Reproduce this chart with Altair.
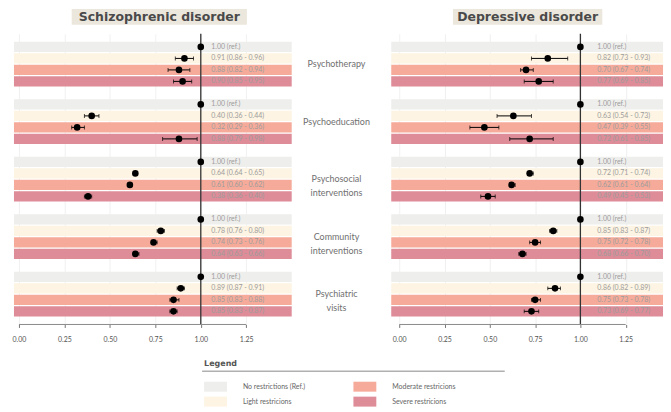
import altair as alt
import pandas as pd

# ---------------- data ----------------
levels = ["No restrictions (Ref.)", "Light restricions", "Moderate restricions", "Severe restricions"]
level_colors = ["#eeeeec", "#fdf4e3", "#f6ab9a", "#dd8c98"]
groups = [["Psychotherapy"], ["Psychoeducation"], ["Psychosocial", "interventions"],
          ["Community", "interventions"], ["Psychiatric", "visits"]]
tick_values = [0.0, 0.25, 0.5, 0.75, 1.0, 1.25]

schizo_est = [[1.00, 0.91, 0.88, 0.90],
              [1.00, 0.40, 0.32, 0.88],
              [1.00, 0.64, 0.61, 0.38],
              [1.00, 0.78, 0.74, 0.64],
              [1.00, 0.89, 0.85, 0.85]]
schizo_lo = [[None, 0.86, 0.82, 0.85],
             [None, 0.36, 0.29, 0.79],
             [None, 0.64, 0.60, 0.36],
             [None, 0.76, 0.73, 0.63],
             [None, 0.87, 0.83, 0.83]]
schizo_hi = [[None, 0.96, 0.94, 0.95],
             [None, 0.44, 0.36, 0.98],
             [None, 0.65, 0.62, 0.40],
             [None, 0.80, 0.76, 0.66],
             [None, 0.91, 0.88, 0.87]]

depr_est = [[1.00, 0.82, 0.70, 0.77],
            [1.00, 0.63, 0.47, 0.72],
            [1.00, 0.72, 0.62, 0.49],
            [1.00, 0.85, 0.75, 0.68],
            [1.00, 0.86, 0.75, 0.73]]
depr_lo = [[None, 0.73, 0.67, 0.69],
           [None, 0.54, 0.39, 0.61],
           [None, 0.71, 0.61, 0.45],
           [None, 0.83, 0.72, 0.66],
           [None, 0.82, 0.73, 0.69]]
depr_hi = [[None, 0.93, 0.74, 0.85],
           [None, 0.73, 0.55, 0.85],
           [None, 0.74, 0.64, 0.53],
           [None, 0.87, 0.78, 0.70],
           [None, 0.89, 0.78, 0.77]]

# ---------------- helpers ----------------
slot_domain = []
for g in range(len(groups)):
    for r in range(len(levels)):
        slot_domain.append(f"{g}-{r}")
    if g < len(groups) - 1:
        slot_domain.append(f"{g}-s")


def build_df(est, lo, hi):
    rows = []
    for g in range(len(groups)):
        for r in range(len(levels)):
            e, l, h = est[g][r], lo[g][r], hi[g][r]
            if l is None:
                lab = f"{e:.2f} (ref.)"
            else:
                lab = f"{e:.2f} ({l:.2f} - {h:.2f})"
            rows.append({"slot": f"{g}-{r}", "level": levels[r],
                         "est": e, "lo": l, "hi": h, "label": lab})
    return pd.DataFrame(rows)


H = 292
yscale = alt.Scale(domain=slot_domain, paddingInner=0.12, paddingOuter=0.7)
cscale = alt.Scale(domain=levels, range=level_colors)
FONT = "Lato"


def panel(df, xmin, xmax, width, title, title_cx, box_w, text_x):
    xs = alt.Scale(domain=[xmin, xmax], nice=False, zero=False)
    base = alt.Chart(df)
    bands = base.mark_rect().encode(
        x=alt.X(datum=xmin, type="quantitative", scale=xs,
                axis=alt.Axis(values=tick_values, format=".2f", domain=False, grid=True,
                              gridColor="#ececec", gridWidth=0.8, tickColor="#777",
                              tickSize=3, labelFontSize=7, labelColor="#555",
                              labelFont=FONT, title=None, labelPadding=8)),
        x2=alt.datum(xmax),
        y=alt.Y("slot:N", scale=yscale, axis=None),
        color=alt.Color("level:N", scale=cscale, legend=None),
    )
    one = alt.Chart(pd.DataFrame({"t": [title]}))
    vline = one.mark_rule(color="#333333", strokeWidth=1.3).encode(x=alt.datum(1.0))
    baseline = one.mark_rule(color="#8a8a8a", strokeWidth=1).encode(
        x=alt.datum(0.0), x2=alt.datum(1.25), y=alt.value(H))
    err = base.transform_filter("datum.lo != null")
    whisk = err.mark_rule(color="black", strokeWidth=1).encode(
        x="lo:Q", x2="hi:Q", y=alt.Y("slot:N", scale=yscale))
    cap_lo = err.mark_tick(color="black", thickness=1, size=4).encode(
        x="lo:Q", y=alt.Y("slot:N", scale=yscale))
    cap_hi = err.mark_tick(color="black", thickness=1, size=4).encode(
        x="hi:Q", y=alt.Y("slot:N", scale=yscale))
    pts = base.mark_circle(size=44, color="black", opacity=1).encode(
        x="est:Q", y=alt.Y("slot:N", scale=yscale))
    labels = base.mark_text(align="left", baseline="middle", fontSize=7,
                            color="#9c9c9c", font=FONT).encode(
        x=alt.datum(text_x), y=alt.Y("slot:N", scale=yscale), text="label:N")
    tbox = one.mark_rect(color="#ece7dc").encode(
        x=alt.value(title_cx - box_w / 2), x2=alt.value(title_cx + box_w / 2),
        y=alt.value(-25), y2=alt.value(-9))
    ttext = one.mark_text(fontSize=12.5, fontWeight="bold", color="#4a4a4a",
                          font="DejaVu Sans", baseline="middle").encode(
        x=alt.value(title_cx), y=alt.value(-17), text="t:N")
    return alt.layer(bands, vline, baseline, whisk, cap_lo, cap_hi, pts, labels,
                     tbox, ttext).properties(width=width, height=H)


left = panel(build_df(schizo_est, schizo_lo, schizo_hi), -0.0274, 1.5, 279,
             "Schizophrenic disorder", 146, 176, 1.058)
right = panel(build_df(depr_est, depr_lo, depr_hi), -0.044, 1.456, 273,
              "Depressive disorder", 137, 150, 1.093)

# group labels: first line at the group's centre, second line below it
first_rows, second_rows = [], []
for g, lines in enumerate(groups):
    first_rows.append({"slot": f"{g}-1", "txt": lines[0]})
    if len(lines) > 1:
        second_rows.append({"slot": f"{g}-2", "txt": lines[1]})


def mid_layer(rows, dy):
    return alt.Chart(pd.DataFrame(rows)).mark_text(
        fontSize=9, color="#707070", font=FONT, align="center", baseline="middle", dy=dy
    ).encode(x=alt.value(45),
             y=alt.Y("slot:N", scale=yscale, axis=None, bandPosition=1.0),
             text="txt:N")


mid = alt.layer(mid_layer(first_rows, 0.7), mid_layer(second_rows, 3.5)
                ).properties(width=100, height=H)

top = alt.hconcat(left, mid, right, spacing=0).resolve_scale(x="independent", y="shared")

# ---------------- legend ----------------
leg_df = pd.DataFrame({"level": levels,
                       "col": [i // 2 for i in range(len(levels))],
                       "row": [i % 2 for i in range(len(levels))]})
lx = alt.X("col:O", scale=alt.Scale(range=[191, 364], paddingInner=0.8467, paddingOuter=0), axis=None)
ly = alt.Y("row:O", scale=alt.Scale(range=[4.5, 29.5], paddingInner=1 / 3, paddingOuter=0), axis=None)
leg_base = alt.Chart(leg_df)
sw = leg_base.mark_rect().encode(x=lx, y=ly, color=alt.Color("level:N", scale=cscale, legend=None))
sw_text = leg_base.mark_text(align="left", baseline="middle", dx=27.5, fontSize=7,
                             color="#666666", font=FONT).encode(x=lx, y=ly, text="level:N")
leg_one = alt.Chart(pd.DataFrame({"t": ["Legend"]}))
leg_title = leg_one.mark_text(align="left", baseline="middle", fontSize=8, fontWeight="bold",
                              color="#555555", font="DejaVu Sans").encode(
    x=alt.value(191), y=alt.value(-13), text="t:N")
leg_rule = leg_one.mark_rule(color="#b0b0b0", strokeWidth=1.5).encode(
    x=alt.value(189), x2=alt.value(493), y=alt.value(-6))
legend = alt.layer(sw, sw_text, leg_title, leg_rule).properties(width=493, height=34)

chart = alt.vconcat(top, legend, spacing=18).properties(
    padding={"left": 4, "top": 0, "right": 0, "bottom": 0},
    background="white",
).configure_view(strokeWidth=0)

chart.save("out.html", embed_options={"renderer": "svg", "actions": False})
